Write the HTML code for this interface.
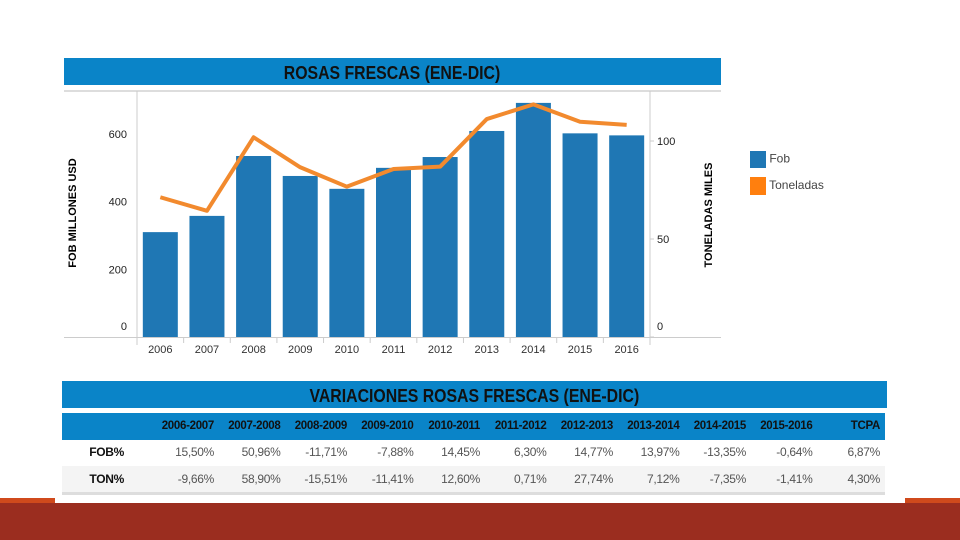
<!DOCTYPE html>
<html><head><meta charset="utf-8"><style>
body{margin:0;width:960px;height:540px;background:#fff;position:relative;overflow:hidden;font-family:"Liberation Sans",sans-serif}
.abs{position:absolute}
.bar{background:#0a84c8;color:#111;font-weight:bold;text-align:center}
.bar span{display:inline-block;transform:scaleX(0.88)}
</style></head><body>
<div class="abs" style="left:0;top:498px;width:56px;height:6px;background:#d04a1c"></div>
<div class="abs" style="left:904px;top:498px;width:56px;height:6px;background:#d04a1c"></div>
<div class="abs" style="left:0;top:503px;width:960px;height:37px;background:#9b2d1f"></div>

<div class="abs bar" style="left:64px;top:58px;width:657px;height:27px;line-height:31px;font-size:18px"><span>ROSAS FRESCAS (ENE-DIC)</span></div>

<svg class="abs" style="left:0;top:0" width="960" height="400" id="chart"></svg>

<div class="abs" style="left:73px;top:213px;transform:translate(-50%,-50%) rotate(-90deg);font-size:11px;font-weight:bold;white-space:nowrap">FOB MILLONES USD</div>
<div class="abs" style="left:709px;top:215px;transform:translate(-50%,-50%) rotate(-90deg);font-size:11px;font-weight:bold;white-space:nowrap">TONELADAS MILES</div>

<div class="abs" style="left:750px;top:151px;font-size:12px;color:#444"><span style="display:inline-block;width:16px;height:17px;background:#1f77b4;vertical-align:middle"></span> Fob</div>
<div class="abs" style="left:750px;top:177px;font-size:12px;color:#444"><span style="display:inline-block;width:16px;height:18px;background:#ff7f0e;vertical-align:middle"></span> Toneladas</div>

<div class="abs" style="left:55px;top:376px;width:850px;height:127px;background:#fff"></div>
<div class="abs bar" style="left:62px;top:381px;width:825px;height:27px;line-height:31px;font-size:18px"><span>VARIACIONES ROSAS FRESCAS (ENE-DIC)</span></div>
<div class="abs" style="left:62px;top:413px;width:823px;height:27px;background:#0a84c8"></div>
<div class="abs" style="left:62px;top:466px;width:823px;height:26px;background:#f4f4f4;border-bottom:3px solid #ddd"></div>
<div id="tbl"></div>

<script>
const years=["2006","2007","2008","2009","2010","2011","2012","2013","2014","2015","2016"];
const fob=[310,358,535,476,438,500,532,609,692,602,596];
const ton=[71.3,64.4,101.9,86.6,76.7,85.7,86.9,111.2,118.7,109.8,108.2];
const leftTicks=[0,200,400,600];
const rightTicks=[0,50,100];
const periods=["2006-2007","2007-2008","2008-2009","2009-2010","2010-2011","2011-2012","2012-2013","2013-2014","2014-2015","2015-2016","TCPA"];
const fobPct=["15,50%","50,96%","-11,71%","-7,88%","14,45%","6,30%","14,77%","13,97%","-13,35%","-0,64%","6,87%"];
const tonPct=["-9,66%","58,90%","-15,51%","-11,41%","12,60%","0,71%","27,74%","7,12%","-7,35%","-1,41%","4,30%"];

const NS="http://www.w3.org/2000/svg",svg=document.getElementById('chart');
const x0=137,x1=650,base=337,band=(x1-x0)/years.length;
const yL=v=>base-v*0.3383, yR=v=>base-v*1.96, xc=i=>x0+band*(i+0.5);
function mk(t,a,p){const e=document.createElementNS(NS,t);for(const k in a)e.setAttribute(k,a[k]);(p||svg).appendChild(e);return e;}
mk('line',{x1:64,y1:91,x2:721,y2:91,stroke:'#ddd','stroke-width':2});
mk('line',{x1:64,y1:337.5,x2:721,y2:337.5,stroke:'#ccc'});
mk('line',{x1:x0,y1:91,x2:x0,y2:345,stroke:'#ccc'});
mk('line',{x1:x1,y1:91,x2:x1,y2:345,stroke:'#ccc'});
for(let i=1;i<years.length;i++){mk('line',{x1:x0+band*i,y1:337,x2:x0+band*i,y2:343,stroke:'#ccc'});}
leftTicks.forEach(v=>{const t=mk('text',{x:127,y:Math.min(yL(v),326)+4,'text-anchor':'end','font-size':11,fill:'#222'});t.textContent=v;
});
rightTicks.forEach(v=>{mk('line',{x1:650,y1:yR(v),x2:654,y2:yR(v),stroke:'#ccc'});const t=mk('text',{x:657,y:Math.min(yR(v),326)+4,'font-size':11,fill:'#222'});t.textContent=v;
});
years.forEach((y,i)=>{const r=mk('rect',{x:xc(i)-17.5,y:yL(fob[i]),width:35,height:base-yL(fob[i]),fill:'#1f77b4'});

const t=mk('text',{x:xc(i),y:353,'text-anchor':'middle','font-size':11,fill:'#333'});t.textContent=y;
});
const pl=mk('polyline',{points:ton.map((v,i)=>xc(i)+','+yR(v)).join(' '),fill:'none',stroke:'#f28a2e','stroke-width':4,'stroke-linejoin':'round'});


const tb=document.getElementById('tbl');
function txt(s,l,t,name,w,extra){const d=document.createElement('div');d.className='abs';d.textContent=s;
d.style.cssText=`left:${l}px;top:${t}px;width:${w}px;text-align:right;font-size:12px;white-space:nowrap;letter-spacing:-0.3px;${extra||''}`;
tb.appendChild(d);}
periods.forEach((p,i)=>{const r=i<10?214+66.5*i:880;
txt(p,r-70,420,'header-'+p,70,'font-weight:bold;color:#111;font-size:11.5px');
txt(fobPct[i],r-70,445,'fob-value',70,'color:#555');
txt(tonPct[i],r-70,472,'ton-value',70,'color:#555');});
txt('FOB%',60,445,'row-label-fob',64,'font-weight:bold;color:#111');
txt('TON%',60,472,'row-label-ton',64,'font-weight:bold;color:#111');
</script>
</body></html>
